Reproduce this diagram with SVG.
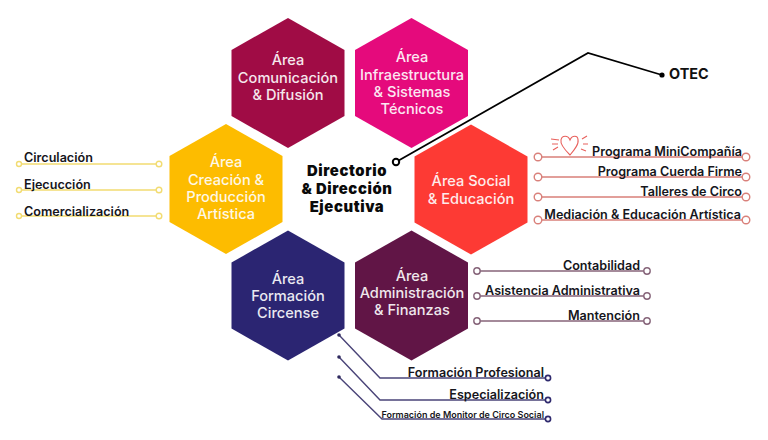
<svg xmlns="http://www.w3.org/2000/svg" width="768" height="440" viewBox="0 0 768 440">
<style>
text{font-family:Inter,"Liberation Sans",sans-serif}
.h{fill:#fff;opacity:.9;font-size:14.6px;font-weight:500;text-anchor:middle}
.l{fill:#16161c;font-size:12.6px;font-weight:600}
.e{text-anchor:end}
.d{fill:#0a0a0a;font-size:14.8px;font-weight:900;letter-spacing:.6px;text-anchor:middle}
.c{fill:none;stroke-width:1.4}
.y{stroke:#f2dc72}.r{stroke:#d9807a}.p{stroke:#866479}.b{stroke:#4a4478}
.o{fill:#fff;stroke-width:1.4}
</style>
<defs><polygon id="hex" points="0,-65 56.5,-33 56.5,33 0,65 -56.5,33 -56.5,-33"/></defs>
<g id="connectors">
<path class="c" style="stroke:#000;stroke-width:1.8" d="M396 162L588 53L662 75"/>
<circle cx="396" cy="162" r="3.2" fill="#fff" stroke="#000" stroke-width="2"/>
<circle cx="662" cy="75" r="2.6" fill="#000"/>
<g class="y c"><path d="M20 164H159M20 190H159M20 216H159"/></g>
<g class="y o"><circle cx="19" cy="164" r="2.5"/><circle cx="159" cy="164" r="2.8"/><circle cx="19" cy="190" r="2.5"/><circle cx="159" cy="190" r="2.8"/><circle cx="19" cy="216" r="2.5"/><circle cx="159" cy="216" r="2.8"/></g>
<g class="r c"><path d="M539 157H746M539 177H746M539 197H746M539 220H746"/></g>
<g class="r o"><circle cx="538" cy="157" r="3.8"/><circle cx="746" cy="157" r="3.8"/><circle cx="538" cy="177" r="3.8"/><circle cx="746" cy="177" r="3.8"/><circle cx="538" cy="197" r="3.8"/><circle cx="746" cy="197" r="3.8"/><circle cx="538" cy="220" r="3.8"/><circle cx="746" cy="220" r="3.8"/></g>
<g class="p c"><path d="M477 271H647M477 296H647M477 321H647"/></g>
<g class="p o"><circle cx="477" cy="271" r="3.2"/><circle cx="647" cy="271" r="3.2"/><circle cx="477" cy="296" r="3.2"/><circle cx="647" cy="296" r="3.2"/><circle cx="477" cy="321" r="3.2"/><circle cx="647" cy="321" r="3.2"/></g>
<g class="b c"><path d="M339 335L380 378H548M339 357L380 400H548M339 377L382 419H548"/></g>
<g fill="#2f2a5e"><circle cx="339" cy="335" r="1.8"/><circle cx="339" cy="357" r="1.8"/><circle cx="339" cy="377" r="1.8"/></g>
<g class="o" stroke="#2f2a6e" style="stroke-width:1.6"><circle cx="548" cy="378" r="2.6"/><circle cx="548" cy="400" r="2.6"/><circle cx="548" cy="419" r="2.6"/></g>
</g>
<g id="heart" fill="none" stroke="#e8605c" stroke-width="1.1"><path d="M570 155C564 149 560 144 561 140C562 135 568 135 570 140C572 135 578 135 578 140C579 144 575 149 570 155Z"/><path d="M551 139L559 140M552 144L558 144M553 150L558 147M582 139L587 136M583 144L588 144M581 149L586 151"/></g>
<g id="n-comunicacion"><use href="#hex" x="288" y="83" fill="#a00c45"/><text class="h" x="288" y="65">Área</text><text class="h" x="288" y="83">Comunicación</text><text class="h" x="288" y="100">&amp; Difusión</text></g>
<g id="n-infraestructura"><use href="#hex" x="411.5" y="83" fill="#e50a7c"/><text class="h" x="412" y="62">Área</text><text class="h" x="412" y="80">Infraestructura</text><text class="h" x="412" y="97">&amp; Sistemas</text><text class="h" x="412" y="114">Técnicos</text></g>
<g id="n-creacion"><use href="#hex" x="226" y="189" fill="#fdbc00"/><text class="h" x="226" y="167">Área</text><text class="h" x="226" y="185">Creación &amp;</text><text class="h" x="226" y="202">Producción</text><text class="h" x="226" y="219">Artística</text></g>
<g id="n-social"><use href="#hex" x="471" y="189.500" fill="#fd3a34"/><text class="h" x="471" y="186">Área Social</text><text class="h" x="471" y="204">&amp; Educación</text></g>
<g id="n-formacion"><use href="#hex" x="288" y="295.500" fill="#2b2572"/><text class="h" x="288" y="284">Área</text><text class="h" x="288" y="301">Formación</text><text class="h" x="288" y="318">Circense</text></g>
<g id="n-administracion"><use href="#hex" x="411.5" y="295.500" fill="#611546"/><text class="h" x="412" y="281">Área</text><text class="h" x="412" y="298">Administración</text><text class="h" x="412" y="315">&amp; Finanzas</text></g>
<g id="n-directorio"><text class="d" x="347" y="176">Directorio</text><text class="d" x="347" y="194">&amp; Dirección</text><text class="d" x="347" y="212">Ejecutiva</text></g>
<g id="n-otec"><text x="669" y="79" style="font-size:14.4px;font-weight:700" fill="#111">OTEC</text></g>
<g id="labels">
<text class="l" x="24" y="162">Circulación</text><text class="l" x="24" y="189">Ejecucción</text><text class="l" x="24" y="216">Comercialización</text>
<text class="l e" x="742" y="156">Programa MiniCompañía</text><text class="l e" x="742" y="176">Programa Cuerda Firme</text><text class="l e" x="742" y="196">Talleres de Circo</text><text class="l e" x="741" y="219">Mediación &amp; Educación Artística</text>
<text class="l e" x="640" y="270">Contabilidad</text><text class="l e" x="640" y="295">Asistencia Administrativa</text><text class="l e" x="640" y="320">Mantención</text>
<text class="l e" x="544" y="377">Formación Profesional</text><text class="l e" x="544" y="399">Especialización</text><text class="l e" x="544" y="418" style="font-size:9px">Formación de Monitor de Circo Social</text>
</g>
</svg>
